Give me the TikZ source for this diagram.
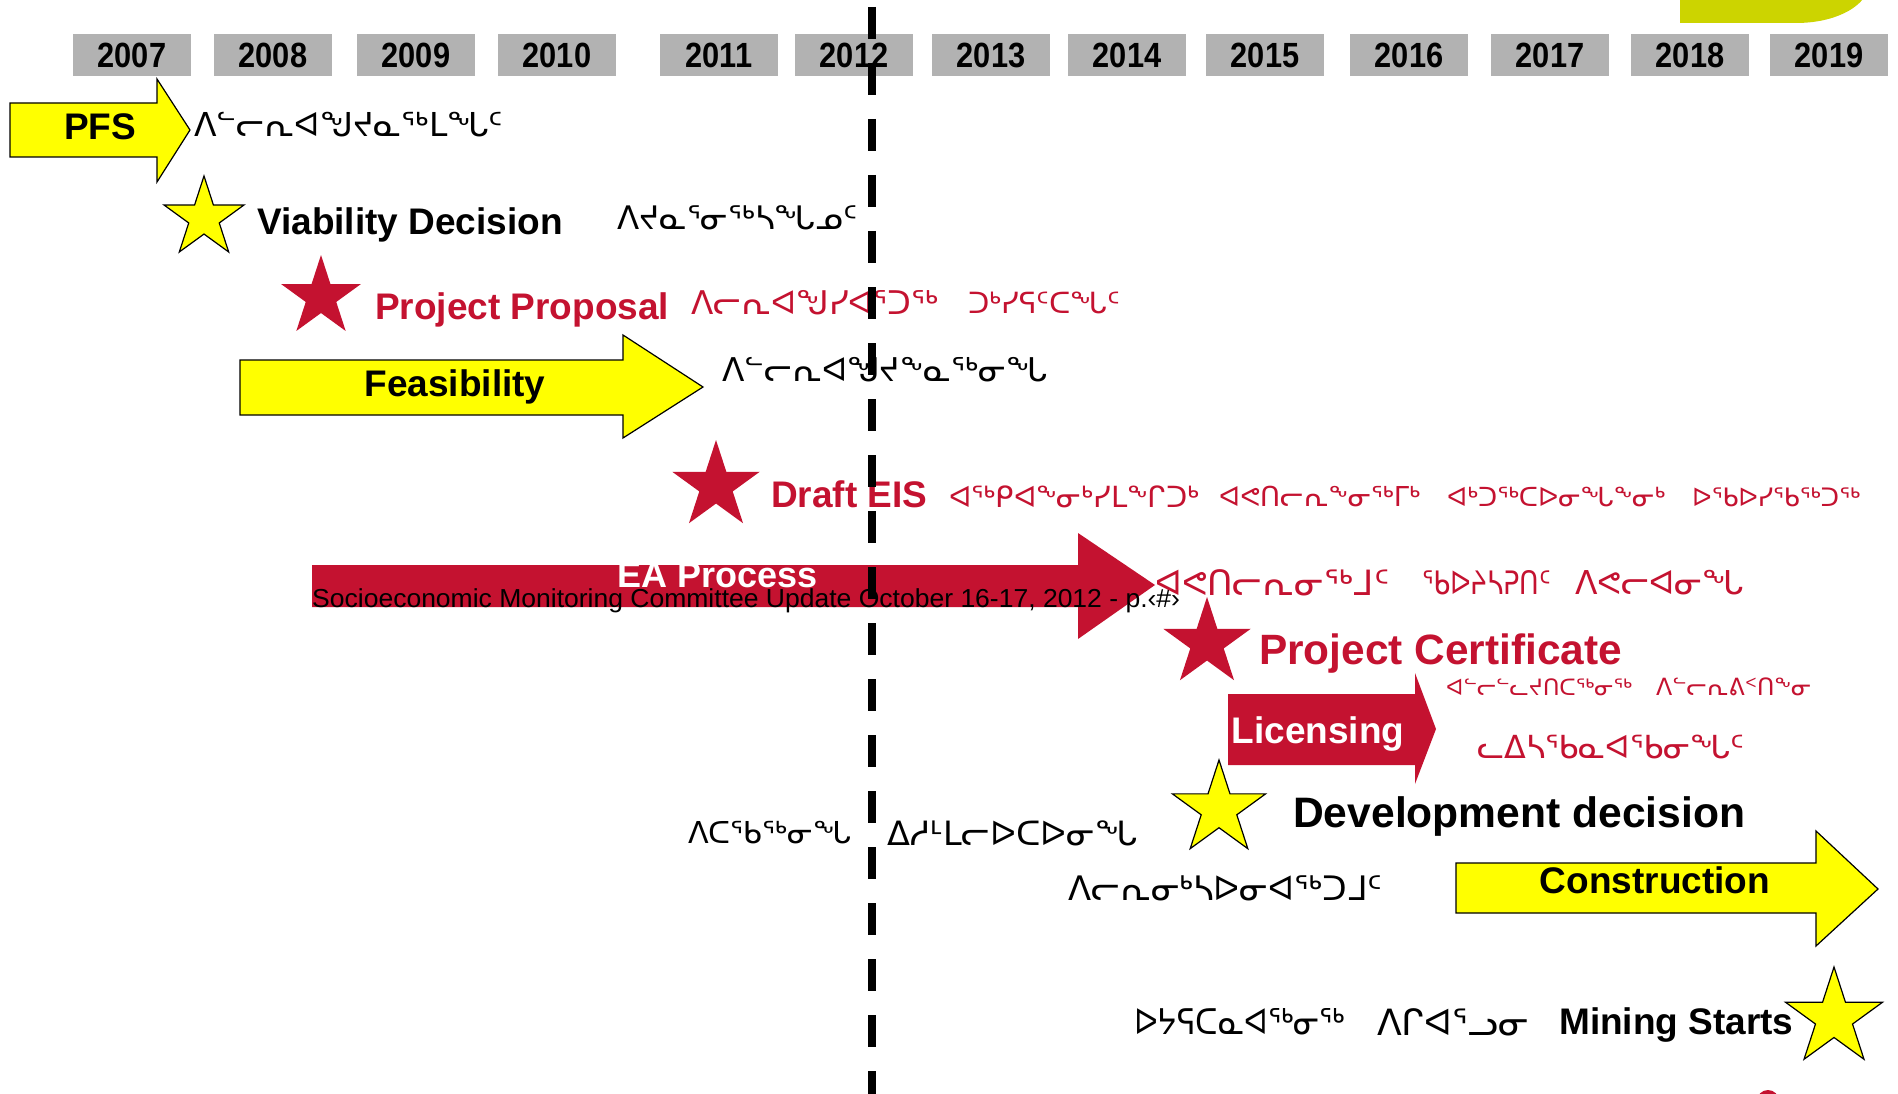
\documentclass[tikz,border=0pt]{standalone}
\usepackage{fontspec}
\setmainfont{Liberation Sans}
\newfontfamily\syl{DejaVu Sans}
\usetikzlibrary{shapes.geometric}
\definecolor{crim}{RGB}{196,18,48}
\definecolor{ylw}{RGB}{255,255,0}
\definecolor{yrgray}{RGB}{178,178,178}
\definecolor{olivey}{RGB}{204,212,0}
\newcommand{\fsz}[1]{\fontsize{#1}{#1}\selectfont}
\newcommand{\sylw}[2]{\resizebox{#1pt}{!}{\syl #2}}
\newcommand{\sylwh}[3]{\resizebox{#1pt}{#2pt}{\syl #3}}
\tikzset{
  yearbox/.style={fill=yrgray, draw=none, minimum width=118pt, minimum height=42pt, inner sep=0pt, font=\fsz{35}\bfseries},
  lab/.style={inner sep=0pt, anchor=base west, font=\fsz{37}\bfseries},
  labc/.style={inner sep=0pt, anchor=base, font=\fsz{37}\bfseries},
  sylt/.style={inner sep=0pt, anchor=west},
  yarrow/.style={fill=ylw, draw=black, line width=1.2pt, line join=miter},
  rarrow/.style={fill=crim, draw=none},
  ystar/.style={star, star points=5, star point ratio=2.618, fill=ylw, draw=black, line width=1.2pt, inner sep=0pt},
  rstar/.style={star, star points=5, star point ratio=2.618, fill=crim, draw=none, inner sep=0pt},
  dashln/.style={line width=8pt, dash pattern=on 32pt off 24pt}
}
\begin{document}
\begin{tikzpicture}[x=1pt,y=-1pt]
\useasboundingbox (0,0) rectangle (1898,1094);
\fill[white] (0,0) rectangle (1898,1094);
% top-right decoration
\fill[olivey] (1680,-10) -- (1680,23) -- (1796,23) .. controls (1834,23) and (1862,8) .. (1868,-10) -- cycle;
% years
\foreach \yr/\xc in {2007/132,2008/273,2009/416,2010/557,2011/719,2012/854,2013/991,2014/1127,2015/1265,2016/1409,2017/1550,2018/1690,2019/1829}
  \node[yearbox] (y\yr) at (\xc,55) {\scalebox{0.88}[1]{\yr}};
% arrows
\draw[yarrow] (10,103) -- (157,103) -- (157,79) -- (190,130) -- (157,182) -- (157,157) -- (10,157) -- cycle;
\node[labc] (pfs) at (100,140) {PFS};
\draw[yarrow] (240,360) -- (623,360) -- (623,335) -- (703,387) -- (623,438) -- (623,415) -- (240,415) -- cycle;
\node[labc] (feas) at (455,396) {Feasibility};
\fill[rarrow] (312,565) -- (1078,565) -- (1078,533) -- (1155,585) -- (1078,639) -- (1078,607) -- (312,607) -- cycle;
\node[labc, text=white, font=\fsz{36}\bfseries] (ea) at (718,587) {EA Process};
\fill[rarrow] (1228,694) -- (1415,694) -- (1415,673) -- (1436,729) -- (1415,784) -- (1415,765) -- (1228,765) -- cycle;
\node[labc, text=white] (lic) at (1318,743) {Licensing};
\draw[yarrow] (1456,863) -- (1816,863) -- (1816,831) -- (1878,889) -- (1816,946) -- (1816,913) -- (1456,913) -- cycle;
\node[labc] (cons) at (1655,893) {Construction};
% stars
\node[ystar, minimum size=84pt] (st1) at (204,218) {};
\node[rstar, minimum size=84pt] (st2) at (321,297) {};
\node[rstar, minimum size=92pt] (st3) at (716,486) {};
\node[rstar, minimum size=92pt] (st4) at (1207,643) {};
\node[ystar, minimum size=98pt] (st5) at (1219,809) {};
\node[ystar, minimum size=102pt] (st6) at (1834,1018) {};
\fill[crim] (1768,1101) ellipse [x radius=11, y radius=11];
% english labels
\node[lab] (vd) at (257,235) {Viability Decision};
\node[lab, text=crim] (pp) at (375,319) {Project Proposal};
\node[lab, text=crim] (de) at (771,507) {Draft EIS};
\node[lab, text=crim, font=\fsz{42.4}\bfseries] (pc) at (1259,664) {Project Certificate};
\node[lab, font=\fsz{42.6}\bfseries] (dd) at (1293,827) {Development decision};
\node[lab] (ms) at (1559,1034) {Mining Starts};
\node[inner sep=0pt, anchor=base west, font=\fsz{26}] (footer) at (312,607) {\resizebox{868pt}{\height}{Socioeconomic Monitoring Committee Update October 16-17, 2012 - p.‹\#›}};
% syllabics
\node[sylt] (s1) at (194,125) {\sylw{309}{ᐱᓪᓕᕆᐊᖑᔪᓇᖅᒪᖓᑦ}};
\node[sylt] (s2) at (617,218) {\sylw{240}{ᐱᔪᓇᕐᓂᖅᓴᖓᓄᑦ}};
\node[sylt, text=crim] (s3a) at (691,303) {\sylw{247}{ᐱᓕᕆᐊᖑᓯᐊᕐᑐᖅ}};
\node[sylt, text=crim] (s3b) at (968,303) {\sylw{152}{ᑐᒃᓯᕋᑦᑕᖓᑦ}};
\node[sylt] (s4) at (722,370) {\sylw{325}{ᐱᓪᓕᕆᐊᖑᔪᖕᓇᖅᓂᖓ}};
\node[sylt, text=crim] (s5a) at (949,497) {\sylw{250}{ᐊᖅᑭᐊᖕᓂᒃᓯᒪᖕᒋᑐᒃ}};
\node[sylt, text=crim] (s5b) at (1219,497) {\sylw{201}{ᐊᕙᑎᓕᕆᖕᓂᖅᒥᒃ}};
\node[sylt, text=crim] (s5c) at (1447,497) {\sylw{218}{ᐊᒃᑐᖅᑕᐅᓂᖓᖕᓂᒃ}};
\node[sylt, text=crim] (s5d) at (1692,497) {\sylw{168}{ᐅᖃᐅᓯᖃᖅᑐᖅ}};
\node[sylt, text=crim] (s6a) at (1155,583) {\sylw{234}{ᐊᕙᑎᓕᕆᓂᖅᒧᑦ}};
\node[sylt, text=crim] (s6b) at (1422,583) {\sylwh{129}{24}{ᖃᐅᔨᓴᕈᑎᑦ}};
\node[sylt, text=crim] (s6c) at (1575,583) {\sylw{169}{ᐱᕙᓕᐊᓂᖓ}};
\node[sylt, text=crim] (s7a) at (1446,687) {\sylw{186}{ᐊᓪᓕᓪᓚᔪᑎᑕᖅᓂᖅ}};
\node[sylt, text=crim] (s7b) at (1656,687) {\sylw{155}{ᐱᓪᓕᕆᕕᑉᑎᖕᓂ}};
\node[sylt, text=crim] (s8) at (1477,747) {\sylw{267}{ᓚᐃᓴᖃᓇᐊᖃᓂᖓᑦ}};
\node[sylt] (s9a) at (688,833) {\sylw{163}{ᐱᑕᖃᖅᓂᖓ}};
\node[sylt] (s9b) at (887,833) {\sylw{250}{ᐃᓱᒻᒪᓕᐅᑕᐅᓂᖓ}};
\node[sylt] (s10) at (1068,888) {\sylw{314}{ᐱᓕᕆᓂᒃᓴᐅᓂᐊᖅᑐᒧᑦ}};
\node[sylt] (s11a) at (1134,1022) {\sylwh{211}{26}{ᐅᔭᕋᑕᓇᐊᖅᓂᖅ}};
\node[sylt] (s11b) at (1377,1022) {\sylw{152}{ᐱᒋᐊᕐᓗᓂ}};
% dashed line for 2012
\coordinate (dtop) at (872,7);
\coordinate (dbot) at (872,1094);
\draw[dashln] (dtop) -- (dbot);
\end{tikzpicture}
\end{document}
